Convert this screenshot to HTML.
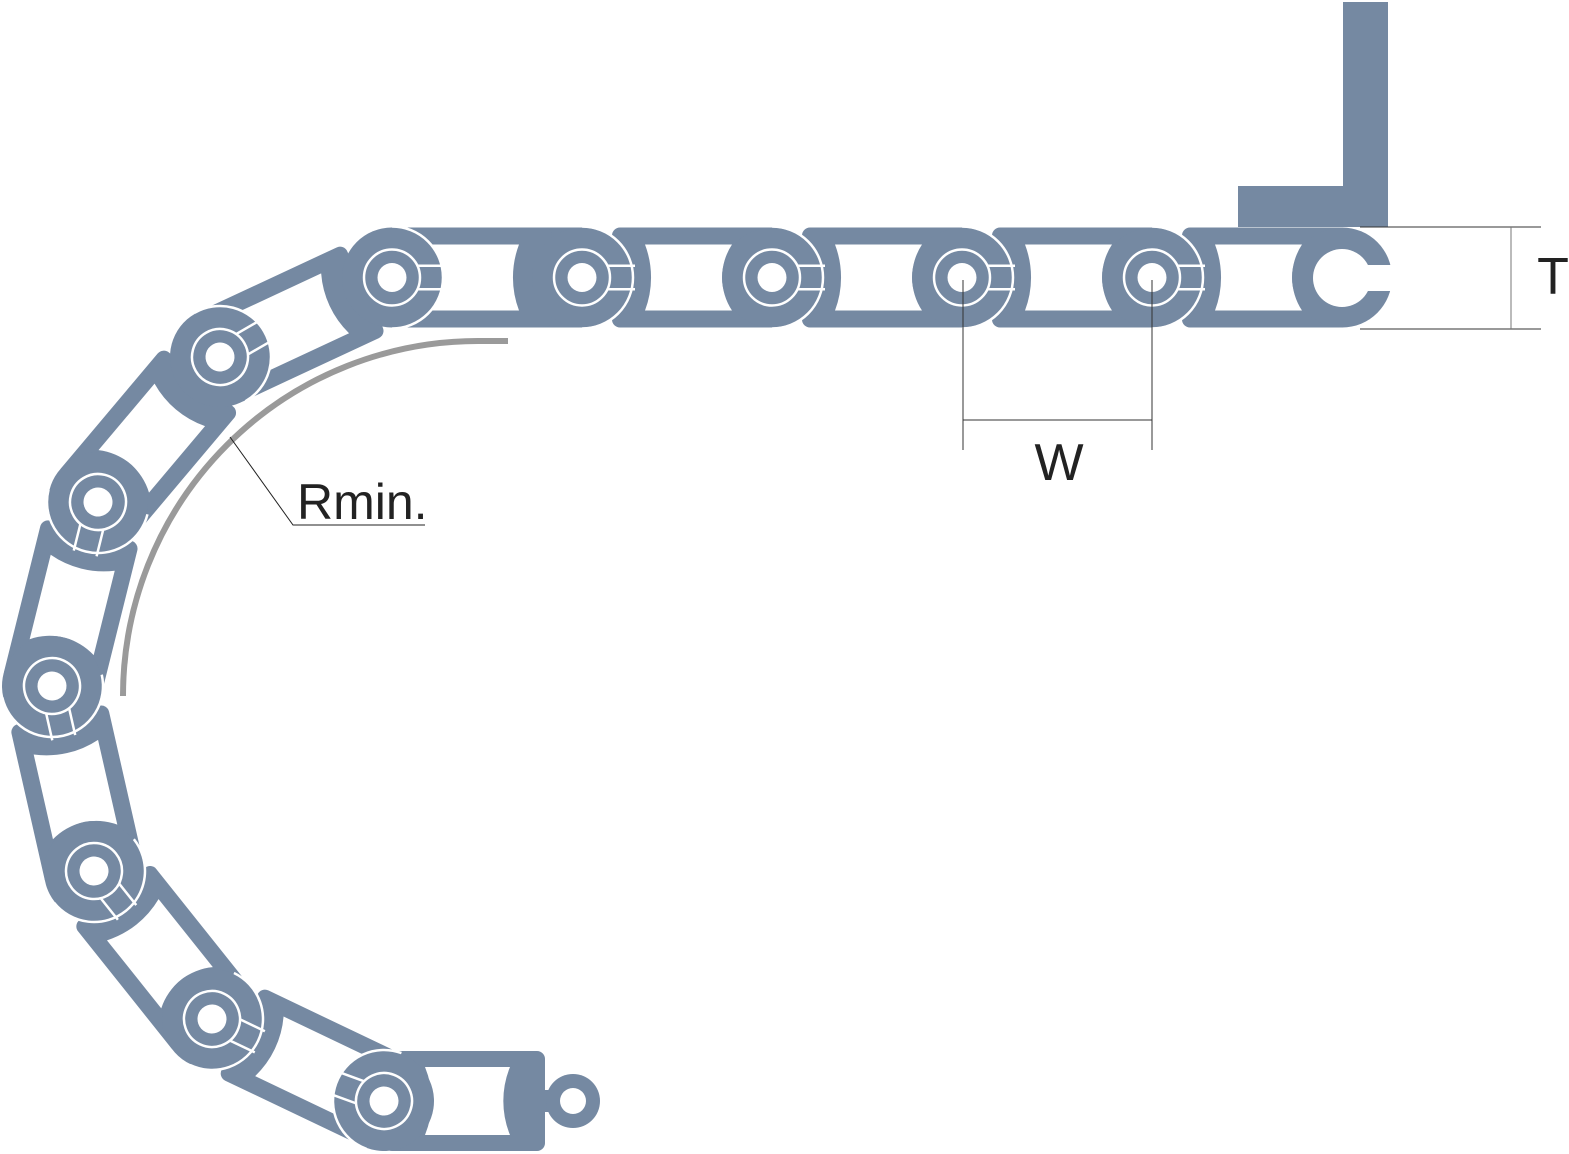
<!DOCTYPE html>
<html><head><meta charset="utf-8"><style>html,body{margin:0;padding:0;background:#fff}svg{display:block}</style></head>
<body>
<svg width="1569" height="1154" viewBox="0 0 1569 1154" xmlns="http://www.w3.org/2000/svg">
<defs>
  <g id="body">
    <rect x="-160" y="-50" width="165" height="100" rx="8" fill="#7589a2"/>
    <path d="M -127 -33 L -40 -33 A 60 60 0 0 0 -40 33 L -127 33 A 93 93 0 0 0 -127 -33 Z" fill="#fff"/>
  </g>
  <g id="head">
    <circle cx="0" cy="0" r="50" fill="#7589a2"/>
    <path d="M 0 -51 A 51 51 0 0 1 0 51" fill="none" stroke="#fff" stroke-width="2.5"/>
    <circle cx="0" cy="0" r="28" fill="none" stroke="#fff" stroke-width="2.5"/>
    <circle cx="0" cy="0" r="14.5" fill="#fff"/>
    <rect x="25" y="-13" width="28" height="2.5" fill="#fff"/>
    <rect x="25" y="10.5" width="28" height="2.5" fill="#fff"/>
  </g>
</defs>

<!-- bracket -->
<rect x="1343" y="2" width="45" height="225" fill="#7589a2"/>
<rect x="1238" y="186" width="150" height="41" fill="#7589a2"/>

<!-- straight links bodies -->
<g transform="translate(582,277.5)"><use href="#body"/></g>
<g transform="translate(772,277.5)"><use href="#body"/></g>
<g transform="translate(962,277.5)"><use href="#body"/></g>
<g transform="translate(1152,277.5)"><use href="#body"/></g>
<g transform="translate(1342,277.5)"><use href="#body"/></g>

<!-- bent bodies -->
<g transform="translate(384,1101) rotate(25.5)"><use href="#body"/></g>
<g transform="translate(212,1019) rotate(51.4)"><use href="#body"/></g>
<g transform="translate(94,871) rotate(77.2)"><use href="#body"/></g>
<g transform="translate(52,686) rotate(104)"><use href="#body"/></g>
<g transform="translate(98,502) rotate(130.1)"><use href="#body"/></g>
<g transform="translate(220,357) rotate(155)"><use href="#body"/></g>
<g transform="translate(392,277.5) rotate(180)"><use href="#body"/></g>

<!-- bottom link -->
<rect x="384" y="1051" width="161" height="100" rx="8" fill="#7589a2"/>
<path d="M 425 1067 L 510 1067 A 90 90 0 0 0 510 1135 L 425 1135 A 90 90 0 0 0 425 1067 Z" fill="#fff"/>
<rect x="520" y="1090" width="35" height="22" fill="#7589a2"/>
<circle cx="573" cy="1101" r="27" fill="#7589a2"/>
<circle cx="573" cy="1101" r="13" fill="#fff"/>

<!-- heads -->
<g transform="translate(52,686) rotate(77.2)"><use href="#head"/></g>
<g transform="translate(94,871) rotate(51.4)"><use href="#head"/></g>
<g transform="translate(212,1019) rotate(25.5)"><use href="#head"/></g>
<g transform="translate(384,1101) rotate(200)"><use href="#head"/></g>
<g transform="translate(98,502) rotate(104)"><use href="#head"/></g>
<g transform="translate(220,357) rotate(-30)"><use href="#head"/></g>
<g transform="translate(392,277.5)"><use href="#head"/></g>
<g transform="translate(582,277.5)"><use href="#head"/></g>
<g transform="translate(772,277.5)"><use href="#head"/></g>
<g transform="translate(962,277.5)"><use href="#head"/></g>
<g transform="translate(1152,277.5)"><use href="#head"/></g>
<!-- open head -->
<circle cx="1342" cy="277.5" r="50" fill="#7589a2"/>
<circle cx="1342" cy="278" r="29" fill="#fff"/>
<rect x="1342" y="265" width="52" height="26" fill="#fff"/>

<!-- Rmin arc -->
<path d="M 508 341 L 478 341 A 355 355 0 0 0 123 696" fill="none" stroke="#9a9a9a" stroke-width="6"/>
<polyline points="230,437 293,525 425,525" fill="none" stroke="#222" stroke-width="1"/>
<text x="297" y="519" font-family="Liberation Sans, sans-serif" font-size="50" fill="#222">Rmin.</text>

<!-- W -->
<line x1="963" y1="280" x2="963" y2="450" stroke="#333" stroke-width="1"/>
<line x1="1152" y1="280" x2="1152" y2="450" stroke="#333" stroke-width="1"/>
<line x1="963" y1="420" x2="1152" y2="420" stroke="#333" stroke-width="1"/>
<text x="1059" y="480" text-anchor="middle" font-family="Liberation Sans, sans-serif" font-size="52" fill="#222">W</text>

<!-- T -->
<line x1="1360" y1="227" x2="1541" y2="227" stroke="#333" stroke-width="1"/>
<line x1="1360" y1="329" x2="1541" y2="329" stroke="#333" stroke-width="1"/>
<line x1="1511" y1="227" x2="1511" y2="329" stroke="#777" stroke-width="1"/>
<text x="1553" y="294" text-anchor="middle" font-family="Liberation Sans, sans-serif" font-size="52" fill="#222">T</text>
</svg>
</body></html>
